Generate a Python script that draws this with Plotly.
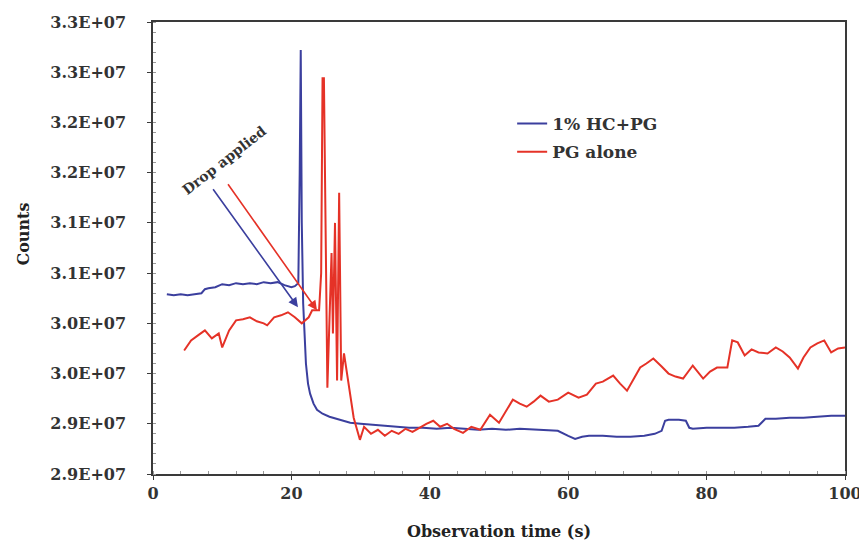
import plotly.graph_objects as go

# ---- data (counts in units of 1e6) ----
blue_x = [2.0, 3, 4, 5, 6, 7, 7.5, 8, 9, 10, 11, 12, 13, 14, 15, 16, 17, 18, 19, 20, 20.5, 21,
          21.2, 21.35, 21.5, 21.7, 21.9, 22.1, 22.4, 22.7, 23.2, 23.7, 24.5, 25.5, 26.5, 27.5, 28.5,
          30, 31.5, 33, 35, 37, 39, 41, 43, 45, 47, 49, 51, 53, 55, 57, 58.5, 60, 61, 62, 63, 65, 67,
          69, 71, 72.5, 73.5, 74, 74.5, 76, 77, 77.5, 78, 80, 82, 84, 86, 87.5, 88.5, 90, 92, 94, 96,
          98, 100]
blue_y = [30.29, 30.28, 30.29, 30.28, 30.29, 30.30, 30.34, 30.35, 30.36, 30.39, 30.38, 30.40, 30.39,
          30.40, 30.39, 30.41, 30.40, 30.41, 30.38, 30.36, 30.37, 30.40,
          31.5, 32.72, 31.0, 30.2, 29.9, 29.6, 29.4, 29.3, 29.2, 29.14, 29.10, 29.07, 29.05, 29.03,
          29.01, 29.00, 28.99, 28.98, 28.97, 28.96, 28.96, 28.95, 28.96, 28.95, 28.94, 28.95, 28.94,
          28.95, 28.94, 28.93, 28.93, 28.88, 28.85, 28.87, 28.88, 28.88, 28.87, 28.87, 28.88, 28.90,
          28.93, 29.03, 29.04, 29.04, 29.03, 28.96, 28.95, 28.96, 28.96, 28.96, 28.97, 28.98, 29.05,
          29.05, 29.06, 29.06, 29.07, 29.08, 29.08]

red_x = [4.5, 5.5, 6.5, 7.5, 8.5, 9.5, 10, 11, 12, 13, 14, 15, 16, 16.5, 17.5, 18.5, 19.5, 20.5,
         21.5, 22.5, 23, 24, 24.3, 24.5, 24.7, 24.9, 25.2, 25.8, 26.0, 26.3, 26.6, 26.9, 27.2, 27.6,
         28.3, 29.0, 29.9, 30.5, 31.5, 32.5, 33.5, 34.5, 35.5, 36.5, 37.5, 38.5, 39.5, 40.5, 41.5,
         42.5, 43.5, 44.8, 46, 47.3, 48.7, 50, 51, 52, 53, 54, 55, 56, 57.2, 58.5, 60, 61.5, 62.7,
         64, 65, 66.5, 67.5, 68.5, 69.5, 70.4, 71.3, 72.3, 73.5, 74.5, 75.5, 76.6, 78, 79.5, 80.5,
         81.5, 83, 83.7, 84.5, 85.5, 86.5, 87.5, 88.8, 90, 91, 92, 93.2, 94, 95, 96, 97, 98, 99, 100]
red_y = [29.73, 29.83, 29.88, 29.93, 29.85, 29.90, 29.76, 29.93, 30.03, 30.04, 30.06, 30.02, 30.00,
         29.98, 30.06, 30.08, 30.11, 30.06, 30.00, 30.06, 30.13, 30.13, 30.5, 32.44, 32.44, 31.0,
         29.36, 30.70, 29.90, 31.00, 29.43, 31.30, 29.43, 29.70, 29.36, 29.06, 28.84, 28.97, 28.90,
         28.94, 28.88, 28.93, 28.90, 28.95, 28.92, 28.96, 29.00, 29.03, 28.97, 29.00, 28.95, 28.91,
         28.97, 28.94, 29.09, 29.01, 29.12, 29.24, 29.20, 29.17, 29.22, 29.28, 29.22, 29.24, 29.31,
         29.26, 29.29, 29.40, 29.42, 29.48, 29.40, 29.33, 29.45, 29.56, 29.60, 29.65, 29.57, 29.50,
         29.47, 29.45, 29.58, 29.45, 29.52, 29.56, 29.56, 29.83, 29.81, 29.68, 29.74, 29.71, 29.70,
         29.76, 29.72, 29.66, 29.55, 29.66, 29.76, 29.80, 29.83, 29.71, 29.75, 29.76]

y_tickvals = [28.5, 29.0, 29.5, 30.0, 30.5, 31.0, 31.5, 32.0, 32.5, 33.0]
y_ticktext = ["2.9E+07", "2.9E+07", "3.0E+07", "3.0E+07", "3.1E+07", "3.1E+07",
              "3.2E+07", "3.2E+07", "3.3E+07", "3.3E+07"]
x_tickvals = [0, 20, 40, 60, 80, 100]

# annotation arrows: (tail x, tail y, head x, head y)
blue_arrow = [8.53, 31.35, 20.95, 30.16]
red_arrow = [10.69, 31.40, 23.7, 30.13]

SCALE = 1e6
BLUE = "#3b3f9e"
RED = "#e53227"
FONT = "DejaVu Serif"

fig = go.Figure()
fig.add_trace(go.Scatter(x=blue_x, y=[v * SCALE for v in blue_y], mode="lines",
                         name="1% HC+PG", legendgroup="a",
                         line=dict(color=BLUE, width=2)))
fig.add_trace(go.Scatter(x=red_x, y=[v * SCALE for v in red_y], mode="lines",
                         name="PG alone", legendgroup="b",
                         line=dict(color=RED, width=2)))

for arr, col in [(blue_arrow, BLUE), (red_arrow, RED)]:
    fig.add_annotation(x=arr[2], y=arr[3] * SCALE, ax=arr[0], ay=arr[1] * SCALE,
                       xref="x", yref="y", axref="x", ayref="y", text="",
                       showarrow=True, arrowhead=2, arrowsize=1.2, arrowwidth=1.6,
                       arrowcolor=col)

fig.add_annotation(x=10.3, y=31.63 * SCALE, xref="x", yref="y", text="Drop applied",
                   showarrow=False, textangle=-38,
                   font=dict(family=FONT, size=14, color="#333333", weight="bold"))

fig.add_annotation(x=-0.187, y=0.531, xref="paper", yref="paper", text="Counts",
                   showarrow=False, textangle=-90, xanchor="center", yanchor="middle",
                   font=dict(family=FONT, size=16, color="#222222", weight="bold"))

axis_common = dict(showline=True, linecolor="#3a3a3a", linewidth=1.5, mirror=True,
                   showgrid=False, zeroline=False, ticks="outside", ticklen=4,
                   tickcolor="#3a3a3a", automargin=False,
                   tickfont=dict(family=FONT, size=16, color="#333333", weight="bold"))

fig.update_xaxes(range=[0, 100], tickvals=x_tickvals, ticklabelstandoff=0,
                 title=dict(text="Observation time (s)",
                            font=dict(family=FONT, size=16, color="#222222", weight="bold"),
                            standoff=24),
                 minor=dict(ticks="inside", ticklen=3, dtick=4, tickcolor="#999999"),
                 **axis_common)
fig.update_yaxes(range=[28.5 * SCALE, 33.0 * SCALE], ticklabelstandoff=18,
                 tickvals=[v * SCALE for v in y_tickvals], ticktext=y_ticktext,
                 minor=dict(ticks="inside", ticklen=3, dtick=0.1 * SCALE, tickcolor="#999999"),
                 **axis_common)

fig.update_layout(
    width=867, height=544,
    margin=dict(l=145, r=30, t=14, b=78),
    paper_bgcolor="white", plot_bgcolor="white",
    showlegend=True,
    legend=dict(x=0.519, y=0.814, xanchor="left", yanchor="top",
                bgcolor="rgba(0,0,0,0)", tracegroupgap=3,
                font=dict(family=FONT, size=17, color="#333333", weight="bold")),
)

fig.write_html("out.html")
